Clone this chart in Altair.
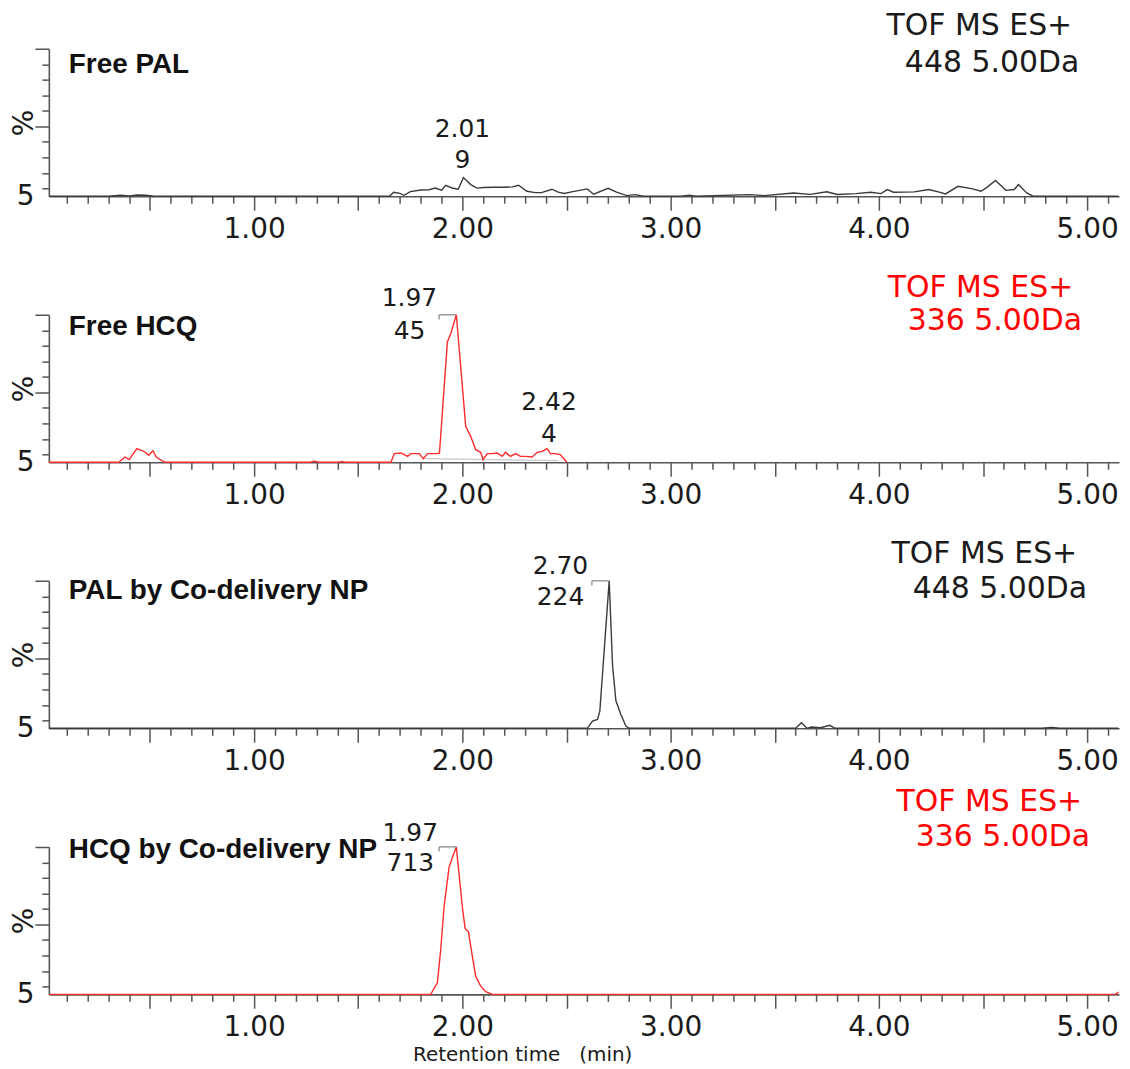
import altair as alt
import pandas as pd

# ---------------- data (retention time in min, relative intensity in %) ----------------
free_pal_t = [0.015, 0.30, 0.36, 0.40, 0.44, 0.48, 0.52, 1.65, 1.67, 1.70, 1.72, 1.75, 1.80, 1.84, 1.87, 1.90,
              1.92, 1.95, 1.98, 2.005, 2.04, 2.07, 2.10, 2.15, 2.20, 2.24, 2.27, 2.31, 2.35, 2.38, 2.43, 2.46,
              2.49, 2.53, 2.60, 2.63, 2.70, 2.74, 2.79, 2.83, 2.87, 3.05, 3.09, 3.12, 3.38, 3.45, 3.59, 3.67,
              3.75, 3.80, 3.89, 3.96, 4.01, 4.04, 4.07, 4.17, 4.24, 4.29, 4.32, 4.38, 4.45, 4.49, 4.52, 4.56,
              4.61, 4.65, 4.67, 4.71, 4.74, 5.15]
free_pal_v = [5, 5, 5.6, 5.2, 5.8, 5.6, 5, 5, 7.5, 6.8, 5.6, 8.0, 9.0, 9.2, 10.3, 8.9,
              12.0, 10.3, 9.5, 17.0, 12.5, 10.2, 10.6, 10.8, 10.8, 11.0, 12.1, 8.2, 7.3, 7.3, 9.5, 7.6,
              6.8, 8.0, 9.7, 6.3, 10.1, 7.6, 5.4, 6.0, 5.0, 5.0, 5.6, 5.0, 6.0, 5.4, 7.1, 6.2,
              7.9, 6.1, 6.7, 7.6, 6.7, 9.3, 7.6, 7.8, 9.3, 7.6, 6.5, 11.4, 9.7, 8.2, 10.9, 15.2,
              8.8, 9.3, 12.5, 7.1, 5.0, 5.0]

free_hcq_t = [0.015, 0.35, 0.38, 0.40, 0.437, 0.47, 0.495, 0.514, 0.53, 0.57, 1.27, 1.29, 1.31, 1.40, 1.42, 1.44,
              1.657, 1.673, 1.705, 1.737, 1.753, 1.793, 1.812, 1.833, 1.88, 1.89, 1.928, 1.944, 1.971, 1.984,
              2.0, 2.016, 2.04, 2.064, 2.088, 2.099, 2.12, 2.144, 2.167, 2.191, 2.207, 2.231, 2.255, 2.279,
              2.303, 2.335, 2.359, 2.383, 2.407, 2.423, 2.447, 2.47, 2.502]
free_hcq_v = [5, 5, 8.4, 6.7, 13.8, 12.1, 9.5, 12.5, 8.4, 5, 5, 5.7, 5, 5, 5.4, 5,
              5, 10.6, 11.0, 8.8, 10.6, 10.6, 7.3, 10.6, 10.6, 11.0, 82.5, 87.8, 100, 79.3,
              53.7, 28.1, 21.7, 13.1, 11.4, 6.7, 10.6, 10.6, 11.0, 8.8, 11.4, 8.8, 10.6, 8.8,
              8.8, 8.4, 11.4, 12.0, 13.8, 10.6, 10.6, 9.9, 5]

pal_np_t = [0.015, 2.60, 2.625, 2.649, 2.66, 2.705, 2.721, 2.737, 2.761, 2.785, 2.801, 3.60, 3.628, 3.655,
            3.675, 3.72, 3.764, 3.79, 4.78, 4.83, 4.87, 5.15]
pal_np_v = [5, 5, 9.7, 10.7, 16, 100, 45.8, 22.9, 13.9, 6.5, 5, 5, 8.6, 5,
            5.85, 5.4, 6.9, 5, 5, 5.6, 5, 5]

hcq_np_t = [0.015, 1.848, 1.88, 1.896, 1.912, 1.936, 1.952, 1.971, 1.984, 2.0, 2.013, 2.029, 2.048, 2.064,
            2.088, 2.112, 2.144, 5.135, 5.152]
hcq_np_v = [5, 5, 12.4, 33.7, 61.3, 86.8, 93.1, 100, 82.6, 61.3, 47.5, 45.4, 29.4, 16.7,
            10.3, 6.7, 5, 5, 6.5]

series_t = [free_pal_t, free_hcq_t, pal_np_t, hcq_np_t]
series_v = [free_pal_v, free_hcq_v, pal_np_v, hcq_np_v]

# integration baseline drawn under the Free HCQ peaks
hcq_base_t = [1.817, 2.46]
hcq_base_v = [7.3, 6.1]

panel_titles = ["Free PAL", "Free HCQ", "PAL by Co-delivery NP", "HCQ by Co-delivery NP"]
trace_colors = ["#3a3a3a", "#ff2a2a", "#3a3a3a", "#ff2a2a"]
header_colors = ["#1a1a1a", "#ff0000", "#1a1a1a", "#ff0000"]
header_line1 = ["TOF MS ES+", "TOF MS ES+", "TOF MS ES+", "TOF MS ES+"]
header_line2 = ["448 5.00Da", "336 5.00Da", "448 5.00Da", "336 5.00Da"]

# annotation anchors (x in min, y in % units of each panel)
title_x = [0.11, 0.11, 0.11, 0.11]
title_y = [89.7, 92.3, 93.6, 98.0]
header_x1 = [4.928, 4.933, 4.952, 4.976]
header_x2 = [4.962, 4.976, 5.000, 5.014]
header_y1 = [114.8, 117.3, 117.3, 128.9]
header_y2 = [91.0, 96.1, 94.9, 106.4]

peak_label_t = [[2.0], [1.746, 2.416], [2.471], [1.75]]
peak_rt_text = [["2.01"], ["1.97", "2.42"], ["2.70"], ["1.97"]]
peak_height_text = [["9"], ["45", "4"], ["224"], ["713"]]
peak_rt_y = [[48.6], [110.9, 43.5], [109.6], [109.0]]
peak_height_y = [[28.1], [89.3, 23.0], [89.7], [89.7]]

bracket_t1 = [[], [1.888], [2.622], [1.888]]
bracket_t2 = [[], [1.970], [2.705], [1.971]]

x_ticks = [round(0.1 * i, 1) for i in range(1, 52)]
y_ticks = [5] + [10 * i for i in range(1, 11)]
X_DOMAIN = [0.0144, 5.153]
Y_DOMAIN = [5, 100]

PLOT_W = 1074
PLOT_H = 148
AX_COLOR = "#555555"
TXT = "#1a1a1a"


def x_axis(with_title):
    kw = dict(
        values=x_ticks,
        labelExpr="datum.value % 1 === 0 ? format(datum.value, '.2f') : ''",
        tickSize=14,
        tickDash={"condition": {"test": "datum.value % 0.5 !== 0", "value": [7, 40]}, "value": [1, 0]},
        tickColor=AX_COLOR, tickWidth=1.5,
        domainColor=AX_COLOR, domainWidth=1.6,
        labelFont="DejaVu Sans", labelFontSize=28, labelColor=TXT, labelPadding=5,
        labelOverlap=False, labelFlush=False, grid=False, zindex=0,
    )
    if with_title:
        kw.update(title="Retention time\u00a0\u00a0\u00a0(min)", titleFont="DejaVu Sans", titleFontSize=20,
                  titleFontWeight="normal", titleColor=TXT, titleX=475, titleY=60,
                  titleAlign="center", titleBaseline="middle")
    else:
        kw.update(title=None)
    return alt.Axis(**kw)


y_axis = alt.Axis(
    values=y_ticks,
    labelExpr="datum.value === 5 ? '5' : ''",
    tickSize=14,
    tickDash={"condition": {"test": "datum.value % 50 !== 0", "value": [7, 40]}, "value": [1, 0]},
    tickOpacity={"condition": {"test": "datum.value === 5", "value": 0}, "value": 1},
    tickColor=AX_COLOR, tickWidth=1.5,
    domainColor=AX_COLOR, domainWidth=1.6,
    labelFont="DejaVu Sans", labelFontSize=28, labelColor=TXT, labelPadding=1,
    labelBaseline="middle", labelOverlap=False, labelFlush=False, grid=False,
    title="%", titleFont="DejaVu Sans", titleFontSize=28, titleFontWeight="normal",
    titleColor=TXT, titleAngle=270, titleX=-24, titleY=74, titleAlign="center",
    titleBaseline="middle", zindex=0,
)

xs = alt.Scale(domain=X_DOMAIN, nice=False, zero=False)
ys = alt.Scale(domain=Y_DOMAIN, nice=False, zero=False)


def panel(i):
    last = i == 3
    xa = x_axis(last)
    X = alt.X("t:Q", scale=xs, axis=xa)
    Y = alt.Y("v:Q", scale=ys, axis=y_axis)
    df = pd.DataFrame({"t": series_t[i], "v": series_v[i]})
    layers = []
    if i == 1:
        base = pd.DataFrame({"t": hcq_base_t, "v": hcq_base_v})
        layers.append(
            alt.Chart(base).mark_line(color="#c8c8c8", strokeWidth=1.2).encode(x=X, y=Y)
        )
    layers.append(
        alt.Chart(df).mark_line(color=trace_colors[i], strokeWidth=1.4).encode(x=X, y=Y)
    )

    # brackets at the apex
    if bracket_t1[i]:
        br = pd.DataFrame({"t": bracket_t1[i], "t2": bracket_t2[i], "v": [100] * len(bracket_t1[i])})
        layers.append(
            alt.Chart(br).mark_rule(color="#8a8a8a", strokeWidth=1.3).encode(
                x=X, x2="t2:Q", y=Y
            )
        )
        brv = pd.DataFrame({"t": bracket_t1[i], "v": [100] * len(bracket_t1[i]),
                            "v2": [97] * len(bracket_t1[i])})
        layers.append(
            alt.Chart(brv).mark_rule(color="#8a8a8a", strokeWidth=1.3).encode(
                x=X, y=Y, y2="v2:Q"
            )
        )

    # panel name
    tdf = pd.DataFrame({"t": [title_x[i]], "v": [title_y[i]], "txt": [panel_titles[i]]})
    layers.append(
        alt.Chart(tdf).mark_text(align="left", baseline="middle", font="Liberation Sans",
                                 fontWeight="bold", fontSize=28, color="#111111").encode(
            x=X, y=Y, text="txt:N")
    )

    # scan header (two lines, right-aligned)
    hdf = pd.DataFrame({"t": [header_x1[i], header_x2[i]], "v": [header_y1[i], header_y2[i]],
                        "txt": [header_line1[i], header_line2[i]]})
    layers.append(
        alt.Chart(hdf).mark_text(align="right", baseline="middle", font="DejaVu Sans",
                                 fontSize=30, color=header_colors[i]).encode(
            x=X, y=Y, text="txt:N")
    )

    # peak labels
    pdf = pd.DataFrame({
        "t": peak_label_t[i] * 2,
        "v": peak_rt_y[i] + peak_height_y[i],
        "txt": peak_rt_text[i] + peak_height_text[i],
    })
    layers.append(
        alt.Chart(pdf).mark_text(align="center", baseline="middle", font="DejaVu Sans",
                                 fontSize=25, color=TXT).encode(
            x=X, y=Y, text="txt:N")
    )

    return alt.layer(*layers).properties(width=PLOT_W, height=PLOT_H)


chart = alt.vconcat(*[panel(i) for i in range(4)], spacing=119, bounds="flush").properties(
    padding={"left": 3, "top": 0, "right": 0, "bottom": 2}
).configure_view(stroke=None)

chart.save("out.html", embed_options={"renderer": "svg", "actions": False})
